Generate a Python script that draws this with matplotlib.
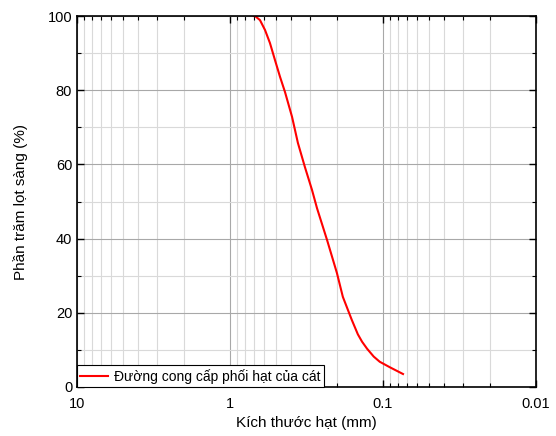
import matplotlib
matplotlib.use("Agg")
import matplotlib.pyplot as plt
from matplotlib.ticker import LogLocator, FixedLocator, FuncFormatter, MultipleLocator

plt.rcParams['font.family'] = ['Liberation Sans', 'DejaVu Sans']

# Dữ liệu
kich_thuoc = [0.70, 0.687, 0.637, 0.590, 0.548, 0.508, 0.471, 0.437, 0.393, 0.360,
              0.324, 0.291, 0.270, 0.232, 0.200, 0.183, 0.160, 0.146, 0.137,
              0.127, 0.115, 0.105, 0.090, 0.074]
lot_sang = [100, 100, 98.9, 96.2, 92.7, 88.1, 83.6, 79.5, 72.8, 65.8,
            59.3, 53.1, 48.2, 39.6, 30.7, 24.3, 18.1, 14.2, 12.2,
            10.3, 8.2, 6.8, 5.3, 3.5]
nhan_x = [10, 1, 0.1, 0.01]

fig = plt.figure(figsize=(5.56, 4.36), dpi=100)
ax = fig.add_axes([77/556, 1-387/436, 459/556, 371/436])

ax.plot(kich_thuoc, lot_sang, color='red', lw=1.5,
        label='Đường cong cấp phối hạt của cát')

ax.set_xscale('log')
ax.set_xlim(10, 0.01)
ax.set_ylim(0, 100)
ax.xaxis.set_major_locator(FixedLocator(nhan_x))
ax.xaxis.set_major_formatter(FuncFormatter(lambda v, p: '%g' % v))
ax.xaxis.set_minor_locator(LogLocator(base=10, subs=range(2, 10)))
ax.yaxis.set_major_locator(MultipleLocator(20))
ax.yaxis.set_minor_locator(MultipleLocator(10))

ax.grid(which='major', color='#a8a8a8', lw=0.8)
ax.grid(which='minor', color='#d9d9d9', lw=0.8)
ax.set_axisbelow(True)

ax.tick_params(which='both', direction='in', top=True, right=True, labelsize=10.5)
ax.tick_params(which='major', length=5, width=1)
ax.tick_params(which='minor', length=3, width=0.8)
ax.tick_params(axis='x', which='major', pad=7)
for s in ax.spines.values():
    s.set_linewidth(1.2)

ax.set_xlabel('Kích thước hạt (mm)', fontsize=11, labelpad=4)
ax.set_ylabel('Phần trăm lọt sàng (%)', fontsize=11, labelpad=14)

leg = ax.legend(loc='lower left', fontsize=10, fancybox=False, framealpha=1,
                edgecolor='black', borderaxespad=0, handlelength=2,
                borderpad=0.25, handletextpad=0.4)
leg.get_frame().set_linewidth(0.8)

fig.savefig('out.png', dpi=100)
